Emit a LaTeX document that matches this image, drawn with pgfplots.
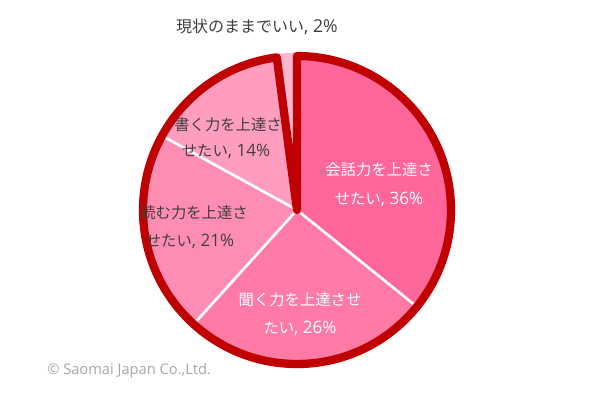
\documentclass[border=0pt]{standalone}
\usepackage{pgfplots}
\usepackage{pgfplotstable}
\pgfplotsset{compat=1.18}
\usepackage{fontspec}
\setmainfont{Noto Sans CJK JP}
\newfontfamily\latinfont{Open Sans}
\newcommand\lt[1]{{\latinfont\fontsize{12.8pt}{14pt}\selectfont #1}}
\definecolor{cKaiwa}{HTML}{FF6699}
\definecolor{cKiku}{HTML}{FF7BA6}
\definecolor{cYomu}{HTML}{FF8DB3}
\definecolor{cKaku}{HTML}{FF9DBF}
\definecolor{cGenjo}{HTML}{FFB6CF}
\definecolor{cBorder}{HTML}{C00000}
\definecolor{cText}{HTML}{404040}
\definecolor{cCopy}{HTML}{A6A6A6}
\pgfplotstableread{
label value
kaiwa 35.8
kiku 25.9
yomu 21.3
kaku 14.9
genjo 2.1
}\piedata
\begin{document}
\begin{tikzpicture}
\pgfplotstablegetelem{0}{value}\of\piedata \let\vA\pgfplotsretval
\pgfplotstablegetelem{1}{value}\of\piedata \let\vB\pgfplotsretval
\pgfplotstablegetelem{2}{value}\of\piedata \let\vC\pgfplotsretval
\pgfplotstablegetelem{3}{value}\of\piedata \let\vD\pgfplotsretval
\pgfplotstablegetelem{4}{value}\of\piedata \let\vE\pgfplotsretval
\pgfmathsetmacro\aZ{90}
\pgfmathsetmacro\aA{\aZ-3.6*\vA}
\pgfmathsetmacro\aB{\aA-3.6*\vB}
\pgfmathsetmacro\aC{\aB-3.6*\vC}
\pgfmathsetmacro\aD{\aC-3.6*\vD}
\pgfmathsetmacro\aE{\aD-3.6*\vE}
\def\R{115.5pt}
\def\Ro{118pt}
\begin{axis}[
  scale only axis, width=455.25pt, height=300.75pt,
  xmin=0, xmax=607, ymin=0, ymax=401,
  hide axis, clip=false,
]
\addplot[draw=none] coordinates {(0,0) (607,401)};
\path (axis cs:0,0) rectangle (axis cs:607,401);
% slices
\fill[cKaiwa] (axis cs:297,191) -- ++(\aZ:\R) arc[start angle=\aZ, end angle=\aA, radius=\R] -- cycle;
\fill[cKiku] (axis cs:297,191) -- ++(\aA:\R) arc[start angle=\aA, end angle=\aB, radius=\R] -- cycle;
\fill[cYomu] (axis cs:297,191) -- ++(\aB:\R) arc[start angle=\aB, end angle=\aC, radius=\R] -- cycle;
\fill[cKaku] (axis cs:297,191) -- ++(\aC:\R) arc[start angle=\aC, end angle=\aD, radius=\R] -- cycle;
\fill[cGenjo] (axis cs:297,191) -- ++(\aD:\Ro) arc[start angle=\aD, end angle=\aE, radius=\Ro] -- cycle;
% separators
\draw[white, line width=2pt] (axis cs:297,191) -- ++(\aA:\R);
\draw[white, line width=2pt] (axis cs:297,191) -- ++(\aB:\R);
\draw[white, line width=2pt] (axis cs:297,191) -- ++(\aC:\R);
% border
\draw[cBorder, line width=6.2pt, line join=round] (axis cs:297,191) -- ++(\aZ:\R) arc[start angle=\aZ, end angle=\aD, radius=\R] -- cycle;
% labels
\node[text=cText, font=\fontsize{12pt}{14pt}\selectfont] at (axis cs:257,374) {現状のままでいい{\latinfont\fontsize{13.3pt}{14pt}\selectfont, 2\%}};
\node[text=cText, font=\fontsize{11.5pt}{14pt}\selectfont] at (axis cs:228,276) {書く力を上達さ};
\node[text=cText, font=\fontsize{11.5pt}{14pt}\selectfont] at (axis cs:226,250) {せたい\lt{, 14\%}};
\node[text=cText, font=\fontsize{11.5pt}{14pt}\selectfont] at (axis cs:194,188) {読む力を上達さ};
\node[text=cText, font=\fontsize{11.5pt}{14pt}\selectfont] at (axis cs:190,160) {せたい\lt{, 21\%}};
\node[text=white, font=\fontsize{11.5pt}{14pt}\selectfont] at (axis cs:379,231) {会話力を上達さ};
\node[text=white, font=\fontsize{11.5pt}{14pt}\selectfont] at (axis cs:379,202) {せたい\lt{, 36\%}};
\node[text=white, font=\fontsize{11.5pt}{14pt}\selectfont] at (axis cs:300,101) {聞く力を上達させ};
\node[text=white, font=\fontsize{11.5pt}{14pt}\selectfont] at (axis cs:300,73) {たい\lt{, 26\%}};
\node[text=cCopy, anchor=west, inner sep=0pt, font=\latinfont\fontsize{11pt}{12pt}\selectfont] at (axis cs:47,30) {© Saomai Japan Co.,Ltd.};
\end{axis}
\end{tikzpicture}
\end{document}
